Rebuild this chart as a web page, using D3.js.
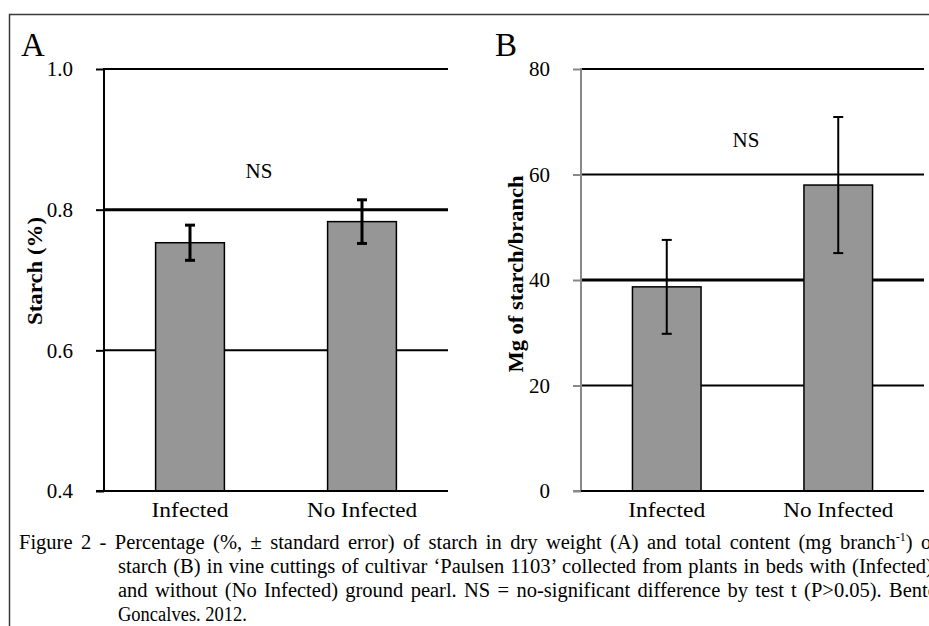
<!DOCTYPE html>
<html>
<head>
<meta charset="utf-8">
<script src="https://cdn.jsdelivr.net/npm/d3@7"></script>
<style>
	body{margin:0;background:#fff;}
	svg{display:block;}
	svg text{font-family:"Liberation Serif","Times New Roman",serif;}
</style>
</head>
<body>
<div id="chart"></div>
<script>
// data
var categories = ["Infected","No Infected"];
var starchPct = [0.753, 0.783];
var starchPctErr = [0.025, 0.031];
var starchMg = [38.7, 58.0];
var starchMgErr = [8.9, 12.9];
var ticksA = [0.4, 0.6, 0.8, 1.0];
var ticksB = [0, 20, 40, 60, 80];
var captionLines = [
	"Figure 2 - Percentage (%, \u00b1 standard error) of starch in dry weight (A) and total content (mg branch",
	"starch (B) in vine cuttings of cultivar \u2018Paulsen 1103\u2019 collected from plants in beds with (Infected),",
	"and without (No Infected) ground pearl. NS = no-significant difference by test t (P>0.05). Bento",
	"Goncalves. 2012."
];

var W = 929, H = 626;
var svg = d3.select("#chart").append("svg")
	.attr("width", W).attr("height", H);

// frame
svg.append("path")
	.attr("d", "M9.5," + H + "V14.5H" + W)
	.attr("fill", "none").attr("stroke", "#3a3a3a").attr("stroke-width", 1.5);

function panel(opt){
	var g = svg.append("g");
	var y = d3.scaleLinear().domain(opt.domain).range([491, 69]);
	var x = d3.scaleBand().domain(categories).range([opt.x0, opt.x1]).paddingInner(0.6).paddingOuter(0.3);

	// gridlines
	g.selectAll("line.grid").data(opt.ticks.slice(1)).enter().append("line")
		.attr("class", "grid")
		.attr("x1", opt.x0).attr("x2", opt.x1)
		.attr("y1", function(d){return y(d);}).attr("y2", function(d){return y(d);})
		.attr("stroke", "#000")
		.attr("stroke-width", function(d){return d === opt.heavy ? 3 : 2;});

	// y axis
	var ya = g.append("g").attr("transform", "translate(" + opt.x0 + ",0)")
		.call(d3.axisLeft(y).tickValues(opt.ticks).tickSize(8).tickPadding(23).tickFormat(opt.fmt));
	ya.attr("font-family", null).attr("font-size", null);
	ya.select(".domain").remove();
	ya.selectAll(".tick line").attr("stroke", opt.axisColor).attr("stroke-width", 2);
	ya.selectAll(".tick text").style("font-size", "21px").attr("fill", "#000");
	g.append("line").attr("x1", opt.x0).attr("x2", opt.x0).attr("y1", 68).attr("y2", 492)
		.attr("stroke", opt.axisColor).attr("stroke-width", 2);

	// bars
	g.selectAll("rect.bar").data(opt.values).enter().append("rect")
		.attr("class", "bar")
		.attr("x", function(d,i){return x(categories[i]);})
		.attr("width", x.bandwidth())
		.attr("y", function(d){return y(d);})
		.attr("height", function(d){return y(opt.domain[0]) - y(d);})
		.attr("fill", "#969696").attr("stroke", "#000").attr("stroke-width", 1.5);

	// baseline
	g.append("line").attr("x1", opt.x0 - 8).attr("x2", opt.x1)
		.attr("y1", 491).attr("y2", 491).attr("stroke", "#000").attr("stroke-width", 2);
	g.append("line").attr("x1", opt.x0 - 8).attr("x2", opt.x0)
		.attr("y1", 491).attr("y2", 491).attr("stroke", opt.axisColor).attr("stroke-width", 2);

	// error bars
	var eb = g.selectAll("g.err").data(opt.values).enter().append("g").attr("class", "err");
	var cx = function(i){return x(categories[i]) + x.bandwidth()/2;};
	eb.append("line")
		.attr("x1", function(d,i){return cx(i);}).attr("x2", function(d,i){return cx(i);})
		.attr("y1", function(d,i){return y(d + opt.errs[i]);}).attr("y2", function(d,i){return y(d - opt.errs[i]);})
		.attr("stroke", "#000").attr("stroke-width", opt.errW);
	[1,-1].forEach(function(s){
		eb.append("line")
			.attr("x1", function(d,i){return cx(i) - opt.cap;}).attr("x2", function(d,i){return cx(i) + opt.cap;})
			.attr("y1", function(d,i){return y(d + s*opt.errs[i]);}).attr("y2", function(d,i){return y(d + s*opt.errs[i]);})
			.attr("stroke", "#000").attr("stroke-width", opt.errW);
	});

	// category labels
	var xa = g.append("g").attr("transform", "translate(0,491)")
		.call(d3.axisBottom(x).tickSize(0).tickPadding(0));
	xa.attr("font-family", null).attr("font-size", null);
	xa.select(".domain").remove();
	xa.selectAll(".tick text").attr("dy", null).attr("y", 25.5)
		.style("font-size", "22px").attr("fill", "#000")
		.attr("textLength", function(d){return d === "Infected" ? 77 : 110;})
		.attr("lengthAdjust", "spacingAndGlyphs");

	// NS
	g.append("text").attr("x", opt.nsX).attr("y", opt.nsY).attr("text-anchor", "middle")
		.style("font-size", "21px").text("NS");

	// panel letter
	g.append("text").attr("x", opt.letterX).attr("y", 56).style("font-size", "33px").text(opt.letter);

	// y title
	g.append("text")
		.attr("transform", "translate(" + opt.titleX + "," + opt.titleY + ") rotate(-90)")
		.attr("text-anchor", "middle").attr("font-weight", "bold").style("font-size", "20px")
		.attr("textLength", opt.titleLen).attr("lengthAdjust", "spacingAndGlyphs")
		.text(opt.title);
}

panel({
	domain: [0.4, 1.0], ticks: ticksA, heavy: 0.8, fmt: d3.format(".1f"),
	x0: 104, x1: 448, values: starchPct, errs: starchPctErr,
	axisColor: "#000", errW: 3, cap: 5,
	nsX: 259, nsY: 178, letter: "A", letterX: 21,
	title: "Starch (%)", titleX: 42, titleY: 271, titleLen: 108
});
panel({
	domain: [0, 80], ticks: ticksB, heavy: 40, fmt: d3.format("d"),
	x0: 581, x1: 924, values: starchMg, errs: starchMgErr,
	axisColor: "#888", errW: 2, cap: 5,
	nsX: 746, nsY: 147, letter: "B", letterX: 495,
	title: "Mg of starch/branch", titleX: 523, titleY: 274, titleLen: 197
});

// caption, justified lines stretched by word spacing (the figure is cropped on the right)
var cap = svg.append("g").attr("fill", "#000");
var rightEdge = 938;
captionLines.forEach(function(t, i){
	var x0 = i === 0 ? 19 : 118;
	var tx = cap.append("text").attr("x", x0).attr("y", 549 + i*24).style("font-size", "20.5px");
	tx.append("tspan").text(t);
	if(i === 0){
		tx.append("tspan").style("font-size", "12px").attr("dy", -8).text("-1");
		tx.append("tspan").attr("dy", 8).text(") of");
	}
	if(i < captionLines.length - 1){
		var natural = tx.node().getComputedTextLength();
		var spaces = tx.text().split(" ").length - 1;
		tx.style("word-spacing", Math.max(0, (rightEdge - x0 - natural) / spaces) + "px");
	} else {
		tx.attr("textLength", 129).attr("lengthAdjust", "spacingAndGlyphs");
	}
});
</script>
</body>
</html>
